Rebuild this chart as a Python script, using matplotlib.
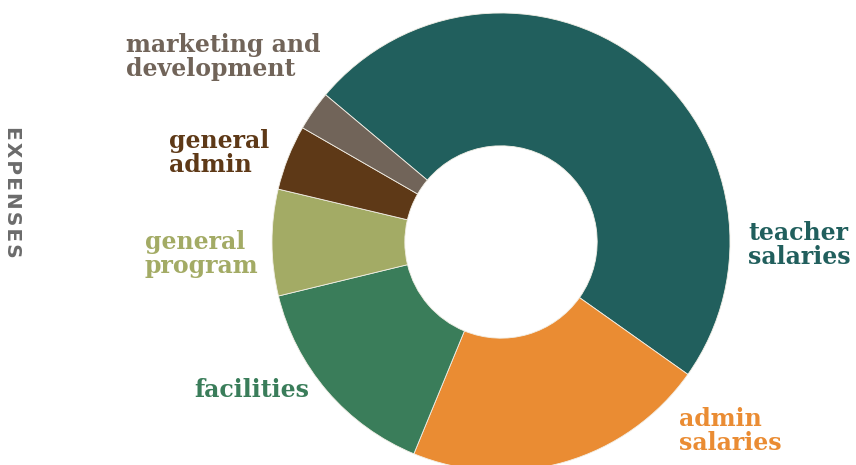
import matplotlib
matplotlib.use("Agg")
import matplotlib.pyplot as plt

# expense shares (percent), clockwise from the top-left
categories = ["teacher\nsalaries", "admin\nsalaries", "facilities",
              "general\nprogram", "general\nadmin", "marketing and\ndevelopment"]
shares = [48.7, 21.4, 15.0, 7.5, 4.6, 2.8]
colors = ["#215f5d", "#ea8c33", "#3a7d5a", "#a3ab65", "#5e3917", "#716459"]

# label anchor (left x, center y) in pixel space, y measured from the top
label_pos = [(748, 245), (679, 431), (194, 390), (145, 254), (169, 153), (126, 57)]

W, H = 856, 465
fig = plt.figure(figsize=(W / 100, H / 100), dpi=100)
ax = fig.add_axes([0, 0, 1, 1])

cx, cy, r = 501, H - 242, 229
ax.pie(shares, colors=colors, startangle=140, counterclock=False,
       center=(cx, cy), radius=r, frame=True,
       wedgeprops=dict(width=r * 0.58, edgecolor="#f2efe6", linewidth=0.6))
ax.set_xlim(0, W)
ax.set_ylim(0, H)
ax.set_aspect("equal")
ax.axis("off")

for lab, col, (x, y) in zip(categories, colors, label_pos):
    ax.text(x, H - y, lab, color=col, fontsize=17, fontweight="bold",
            family="DejaVu Serif", ha="left", va="center", linespacing=0.95)

title = "\u200a".join("EXPENSES")
ax.text(12, H - 192, title, color="#6b6b6b", fontsize=14.5,
        fontweight="heavy", family="DejaVu Sans", rotation=-90,
        ha="center", va="center")

fig.savefig("out.png", dpi=100)
